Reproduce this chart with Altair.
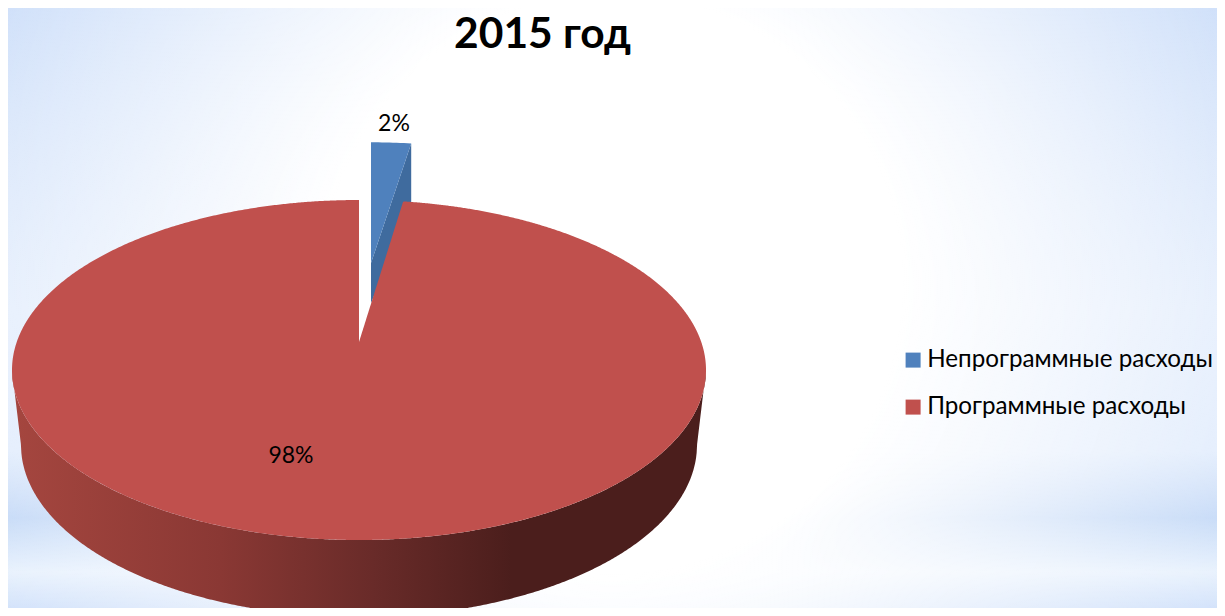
import numpy as np
import pandas as pd
import altair as alt

# ---- data ----
SERIES = ["Непрограммные расходы", "Программные расходы"]
SHARES = [2.4, 97.6]
COLORS = ["#4f81bd", "#c0504d"]
CHART_TITLE = "2015 год"

# ---- geometry of the tilted pie (in picture pixels) ----
W, H = 1209, 600
XS = alt.Scale(domain=[8, 8 + W], range=[0, W])
YS = alt.Scale(domain=[8, 8 + H], range=[0, H])
CX, CY, RX, RY = 359.0, 370.0, 347.0, 170.0      # rim of the top face
AX, AY = 359.0, 342.0                            # pie centre seen in perspective
BX, BY, BRX, BRY = 359.0, 445.0, 338.0, 172.0    # rim of the bottom face
K, PX, PY = 0.1647, 342.0, 165.4


def rim(t):
    u, v = np.sin(t), np.cos(t)
    w = 1 + K * v
    return AX + PX * u / w, AY - PY * v / w


def upper(x):
    return CY - RY * np.sqrt(np.clip(1 - ((x - CX) / RX) ** 2, 0, 1))


def lower(x):
    return CY + RY * np.sqrt(np.clip(1 - ((x - CX) / RX) ** 2, 0, 1))


def samples(a, b, n=260):
    return a + (b - a) * (1 - np.cos(np.linspace(0, np.pi, n))) / 2


ex, ey = rim(SHARES[0] / 100 * 2 * np.pi)     # where the small slice ends

# red top face, left and right of the gap
xl = samples(CX - RX, AX)
xr = samples(AX, CX + RX, 420)
slope = (ey - AY) / (ex - AX)
top_r = np.where(xr < ex, AY + slope * (xr - AX), upper(xr))
red = pd.concat([
    pd.DataFrame(dict(x=xl, y=upper(xl), y2=lower(xl), part="a")),
    pd.DataFrame(dict(x=xr, y=top_r, y2=lower(xr), part="b")),
])
red["series"] = SERIES[1]

# red side wall
xw = samples(CX - RX, CX + RX, 500)
inner = np.abs(xw - BX) <= BRX
wall_y2 = np.where(
    inner,
    BY + BRY * np.sqrt(np.clip(1 - ((xw - BX) / BRX) ** 2, 0, 1)),
    CY + (BY - CY) * np.clip((RX - np.abs(xw - CX)) / (RX - BRX), 0, 1),
)
wall = pd.DataFrame(dict(x=xw, y=lower(xw), y2=wall_y2))

# blue slice, pulled out of the pie
BAX, BAY, SX, SY = 371.0, 263.0, 0.91, 0.85
DEPTH_NEAR, DEPTH_FAR = 40.0, 65.0
bx = np.linspace(BAX, BAX + SX * (ex - AX), 12)
bt = BAY + SY * (upper(AX + (bx - BAX) / SX) - AY)
bb = BAY + (bx - BAX) * (SY * (ey - AY)) / (SX * (ex - AX))
blue = pd.DataFrame(dict(x=bx, y=bt, y2=bb, series=SERIES[0]))
blue_side = pd.DataFrame(dict(x=bx, y=bb, y2=bb + np.linspace(DEPTH_NEAR, DEPTH_FAR, 12)))

labels = pd.DataFrame(dict(
    x=[394.0, 291.0], y=[124.0, 456.0],
    text=[f"{round(v)}%" for v in SHARES],
))

X = lambda: alt.X("x:Q", scale=XS, axis=None)
Y = lambda: alt.Y("y:Q", scale=YS, axis=None)
full = dict(x=alt.value(0), x2=alt.value(W), y=alt.value(0), y2=alt.value(H))
one = pd.DataFrame({"a": [0]})

bg_linear = alt.Chart(one).mark_rect(color=alt.LinearGradient(
    gradient="linear", x1=0, y1=0, x2=0, y2=1,
    stops=[
        alt.GradientStop(color="#c9dcf9", offset=0),
        alt.GradientStop(color="#e0ebfc", offset=0.5),
        alt.GradientStop(color="#deeafc", offset=0.74),
        alt.GradientStop(color="#bed5f6", offset=0.85),
        alt.GradientStop(color="#e6f0fd", offset=0.94),
        alt.GradientStop(color="#cfe0fa", offset=1),
    ])).encode(**full)

bg_radial = alt.Chart(one).mark_rect(color=alt.RadialGradient(
    gradient="radial", x1=0.5, y1=0.48, x2=0.5, y2=0.48, r1=0, r2=0.6,
    stops=[
        alt.GradientStop(color="rgba(255,255,255,1)", offset=0),
        alt.GradientStop(color="rgba(255,255,255,1)", offset=0.4),
        alt.GradientStop(color="rgba(255,255,255,0)", offset=1),
    ])).encode(**full)

color = alt.Color(
    "series:N",
    scale=alt.Scale(domain=SERIES, range=COLORS),
    legend=alt.Legend(
        title=None, orient="none", legendX=893, legendY=340,
        symbolType="square", symbolSize=225, symbolStrokeWidth=0,
        labelFont="Lato", labelFontSize=24.2, labelColor="#000000",
        labelOffset=2, rowPadding=22, labelLimit=400,
    ),
)

blue_side_l = alt.Chart(blue_side).mark_area(color="#3f6b9e", interpolate="linear").encode(
    x=X(), y=Y(), y2="y2:Q")
blue_l = alt.Chart(blue).mark_area(interpolate="linear").encode(
    x=X(), y=Y(), y2="y2:Q", color=color)
wall_l = alt.Chart(wall).mark_area(interpolate="linear", color=alt.LinearGradient(
    gradient="linear", x1=0, y1=0, x2=1, y2=0,
    stops=[
        alt.GradientStop(color="#a5463f", offset=0),
        alt.GradientStop(color="#8a3834", offset=0.3),
        alt.GradientStop(color="#692b29", offset=0.52),
        alt.GradientStop(color="#4b1e1c", offset=0.72),
        alt.GradientStop(color="#4b1e1c", offset=1),
    ])).encode(x=X(), y=Y(), y2="y2:Q")
red_l = alt.Chart(red).mark_area(interpolate="linear").encode(
    x=X(), y=Y(), y2="y2:Q", color=color, detail="part:N")
text_l = alt.Chart(labels).mark_text(
    font="Lato", fontSize=23, color="#000000", align="center", baseline="middle"
).encode(x=X(), y=Y(), text="text:N")

chart = alt.layer(
    bg_linear, bg_radial, blue_side_l, blue_l, wall_l, red_l, text_l
).properties(
    width=W, height=H, padding=0,
    autosize=alt.AutoSizeParams(type="none"),
    title=alt.TitleParams(
        CHART_TITLE, font="Lato", fontSize=42.5, fontWeight="bold", color="#000000",
        anchor="middle", dx=-70, dy=52,
    ),
).configure_view(stroke=None)

chart.save("out.html", embed_options={"renderer": "svg", "actions": False})
